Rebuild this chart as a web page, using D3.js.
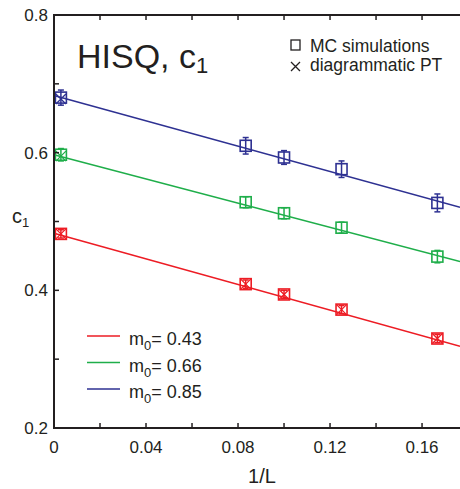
<!DOCTYPE html>
<html>
<head>
<meta charset="utf-8">
<script src="https://cdn.jsdelivr.net/npm/d3@7"></script>
<style>
  body { margin: 0; background: #fff; }
  text { font-family: "Liberation Sans", Arial, sans-serif; fill: #231f20; }
</style>
</head>
<body>
<svg id="chart" width="460" height="489"></svg>
<script>
// data
var X_VALUES = [0.003, 1 / 12, 1 / 10, 1 / 8, 1 / 6];
var MASSES = ["0.43", "0.66", "0.85"];
var COLORS = ["#ed1c24", "#1fae4a", "#2e3192"];
var MC_VALUES = [
    [0.482, 0.409, 0.394, 0.372, 0.330],
    [0.597, 0.528, 0.512, 0.491, 0.449],
    [0.680, 0.610, 0.593, 0.576, 0.527]
];
var MC_ERRORS = [
    [0.006, 0.006, 0.006, 0.006, 0.006],
    [0.009, 0.008, 0.008, 0.008, 0.009],
    [0.011, 0.012, 0.010, 0.012, 0.013]
];
// diagrammatic PT points (index into X_VALUES)
var PT_POINTS = [
    [[0, 0.482], [1, 0.409], [2, 0.394], [3, 0.372], [4, 0.330]],
    [[0, 0.595]],
    [[0, 0.678]]
];
var FIT_INTERCEPT = [0.483, 0.597, 0.683];
var FIT_SLOPE = [-0.93, -0.88, -0.92];
var X_TICKS = [0, 0.04, 0.08, 0.12, 0.16];
var Y_TICKS = [0.2, 0.4, 0.6, 0.8];

var LEFT = 54, RIGHT = 460, TOP = 15, BOTTOM = 428;
var AXIS_COLOR = "#231f20";
var SQ = 11, TICK_LEN = 5;

var svg = d3.select("#chart");

var xScale = d3.scaleLinear().domain([0, 0.1765]).range([LEFT, RIGHT]);
var yScale = d3.scaleLinear().domain([0.2, 0.8]).range([BOTTOM, TOP]);

// Fit lines
for (var s = 0; s < MASSES.length; s++) {
    var x0 = 0, x1 = xScale.domain()[1];
    svg.append("line")
        .attr("x1", xScale(x0))
        .attr("y1", yScale(FIT_INTERCEPT[s] + FIT_SLOPE[s] * x0))
        .attr("x2", xScale(x1))
        .attr("y2", yScale(FIT_INTERCEPT[s] + FIT_SLOPE[s] * x1))
        .attr("stroke", COLORS[s])
        .attr("stroke-width", 1.5);
}

// MC squares with error bars
for (var s = 0; s < MASSES.length; s++) {
    var g = svg.append("g").attr("class", "series-" + s);
    X_VALUES.forEach(function (xv, i) {
        var cx = xScale(xv), cy = yScale(MC_VALUES[s][i]);
        var top = yScale(MC_VALUES[s][i] + MC_ERRORS[s][i]);
        var bot = yScale(MC_VALUES[s][i] - MC_ERRORS[s][i]);
        g.append("line")
            .attr("x1", cx).attr("x2", cx).attr("y1", top).attr("y2", bot)
            .attr("stroke", COLORS[s]).attr("stroke-width", 1.5);
        [top, bot].forEach(function (yy) {
            g.append("line")
                .attr("x1", cx - 3).attr("x2", cx + 3).attr("y1", yy).attr("y2", yy)
                .attr("stroke", COLORS[s]).attr("stroke-width", 1.5);
        });
        g.append("rect")
            .attr("x", cx - SQ / 2).attr("y", cy - SQ / 2)
            .attr("width", SQ).attr("height", SQ)
            .attr("fill", "none")
            .attr("stroke", COLORS[s]).attr("stroke-width", 1.6);
    });
    PT_POINTS[s].forEach(function (p) {
        var cx = xScale(X_VALUES[p[0]]), cy = yScale(p[1]), h = SQ / 2 - 0.5;
        g.append("path")
            .attr("d", "M" + (cx - h) + "," + (cy - h) + "L" + (cx + h) + "," + (cy + h) +
                       "M" + (cx - h) + "," + (cy + h) + "L" + (cx + h) + "," + (cy - h))
            .attr("stroke", COLORS[s]).attr("stroke-width", 1.3);
    });
}

// Axes frame (left, top, bottom)
svg.append("path")
    .attr("d", "M" + RIGHT + "," + TOP + "H" + LEFT + "V" + BOTTOM + "H" + RIGHT)
    .attr("fill", "none")
    .attr("stroke", AXIS_COLOR)
    .attr("stroke-width", 2);

// x ticks, every 0.02, on bottom and top
d3.range(0.02, 0.1761, 0.02).forEach(function (t) {
    var xx = xScale(t);
    svg.append("line").attr("x1", xx).attr("x2", xx)
        .attr("y1", BOTTOM).attr("y2", BOTTOM - TICK_LEN)
        .attr("stroke", AXIS_COLOR).attr("stroke-width", 1.5);
    svg.append("line").attr("x1", xx).attr("x2", xx)
        .attr("y1", TOP).attr("y2", TOP + TICK_LEN)
        .attr("stroke", AXIS_COLOR).attr("stroke-width", 1.5);
});
X_TICKS.forEach(function (t) {
    svg.append("text")
        .attr("x", xScale(t)).attr("y", 453)
        .attr("text-anchor", "middle")
        .style("font-size", "17px")
        .text(t === 0 ? "0" : d3.format(".2f")(t).replace(/0$/, ""));
});

// y ticks, every 0.1
d3.range(0.3, 0.75, 0.1).forEach(function (t) {
    var yy = yScale(t);
    svg.append("line").attr("x1", LEFT).attr("x2", LEFT + TICK_LEN)
        .attr("y1", yy).attr("y2", yy)
        .attr("stroke", AXIS_COLOR).attr("stroke-width", 1.5);
});
Y_TICKS.forEach(function (t) {
    svg.append("text")
        .attr("x", 48).attr("y", yScale(t) + 6)
        .attr("text-anchor", "end")
        .style("font-size", "17px")
        .text(d3.format(".1f")(t));
});

// Axis titles
svg.append("text")
    .attr("x", 262).attr("y", 483)
    .attr("text-anchor", "middle")
    .style("font-size", "20px")
    .text("1/L");
var yl = svg.append("text").attr("x", 12).attr("y", 223).style("font-size", "20px");
yl.append("tspan").text("c");
yl.append("tspan").attr("dy", 4).style("font-size", "13px").text("1");

// Title
var title = svg.append("text").attr("x", 77).attr("y", 68).style("font-size", "34px");
title.append("tspan").text("HISQ, c");
title.append("tspan").attr("dy", 5).style("font-size", "22px").text("1");

// Symbol legend
svg.append("rect")
    .attr("x", 291).attr("y", 40).attr("width", 9).attr("height", 10)
    .attr("fill", "none").attr("stroke", AXIS_COLOR).attr("stroke-width", 1.3);
svg.append("path")
    .attr("d", "M291,62L300,71M291,71L300,62")
    .attr("stroke", AXIS_COLOR).attr("stroke-width", 1.3);
svg.append("text").attr("x", 310).attr("y", 52).style("font-size", "17.5px").text("MC simulations");
svg.append("text").attr("x", 310).attr("y", 71).style("font-size", "17.5px").text("diagrammatic PT");

// Mass legend
MASSES.forEach(function (m, i) {
    var yy = 336 + i * 26.5;
    svg.append("line")
        .attr("x1", 87).attr("x2", 120).attr("y1", yy).attr("y2", yy)
        .attr("stroke", COLORS[i]).attr("stroke-width", 1.5);
    var t = svg.append("text").attr("x", 129).attr("y", yy + 9).style("font-size", "18px");
    t.append("tspan").text("m");
    t.append("tspan").attr("dy", 5).style("font-size", "13px").text("0");
    t.append("tspan").attr("dy", -5).text("= " + m);
});
</script>
</body>
</html>
